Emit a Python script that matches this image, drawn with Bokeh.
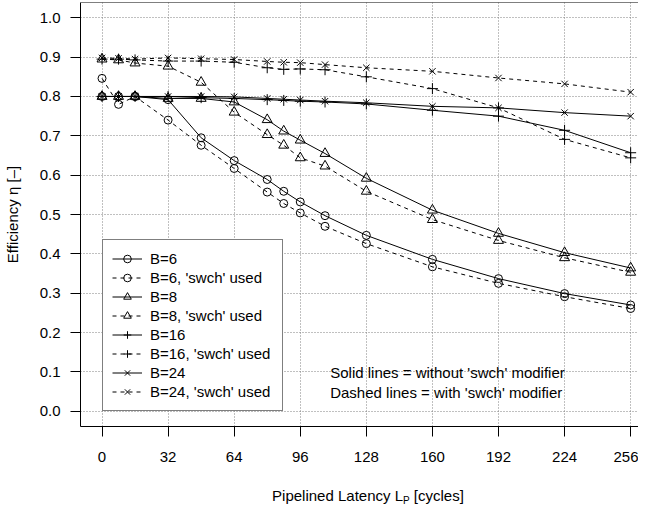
from bokeh.plotting import figure
from bokeh.layouts import column
from bokeh.models import (FixedTicker, PrintfTickFormatter, Legend, LegendItem,
                          Label, Span, Range1d, Div)
from bokeh.embed import file_html
from bokeh.resources import INLINE

# ---------------- data ----------------
latency = [0, 8, 16, 32, 48, 64, 80, 88, 96, 108, 128, 160, 192, 224, 256]

b6      = [0.800, 0.800, 0.800, 0.792, 0.695, 0.637, 0.589, 0.559, 0.532, 0.497, 0.447, 0.386, 0.337, 0.299, 0.270]
b6_swch = [0.846, 0.780, 0.800, 0.740, 0.676, 0.617, 0.557, 0.528, 0.504, 0.470, 0.426, 0.367, 0.325, 0.291, 0.261]
b8      = [0.800, 0.800, 0.800, 0.795, 0.795, 0.786, 0.741, 0.712, 0.689, 0.655, 0.592, 0.511, 0.452, 0.403, 0.364]
b8_swch = [0.895, 0.893, 0.885, 0.877, 0.836, 0.760, 0.703, 0.676, 0.644, 0.623, 0.559, 0.487, 0.434, 0.390, 0.353]
b16      = [0.800, 0.800, 0.800, 0.800, 0.797, 0.795, 0.792, 0.790, 0.788, 0.786, 0.781, 0.765, 0.750, 0.714, 0.657]
b16_swch = [0.895, 0.895, 0.893, 0.890, 0.890, 0.887, 0.873, 0.869, 0.870, 0.868, 0.850, 0.820, 0.771, 0.691, 0.644]
b24      = [0.800, 0.800, 0.800, 0.800, 0.800, 0.799, 0.795, 0.793, 0.791, 0.788, 0.784, 0.775, 0.771, 0.759, 0.750]
b24_swch = [0.898, 0.897, 0.895, 0.898, 0.896, 0.894, 0.889, 0.887, 0.886, 0.881, 0.873, 0.864, 0.847, 0.832, 0.811]

series_labels = ["B=6", "B=6, 'swch' used", "B=8", "B=8, 'swch' used",
                 "B=16", "B=16, 'swch' used", "B=24", "B=24, 'swch' used"]
series_values = [b6, b6_swch, b8, b8_swch, b16, b16_swch, b24, b24_swch]

x_ticks = [0, 32, 64, 96, 128, 160, 192, 224, 256]
y_ticks = [0.0, 0.1, 0.2, 0.3, 0.4, 0.5, 0.6, 0.7, 0.8, 0.9, 1.0]

note_lines = ["Solid lines = without 'swch' modifier",
              "Dashed lines = with 'swch' modifier"]

x_title_main = "Pipelined Latency L"
x_title_sub = "P"
x_title_end = " [cycles]"
y_title = "Efficiency η [–]"

# ---------------- styles ----------------
FONT = "Liberation Sans"
FS = "15px"
markers = ["circle", "circle", "triangle", "triangle", "cross", "cross", "x", "x"]
sizes = [8, 8, 10, 10, 11, 11, 9, 9]
dashes = ["solid", "4 4"] * 4

Y_START, Y_END = -0.0389, 1.0389
p = figure(width=638, height=478, output_backend="svg", toolbar_location=None,
           x_range=Range1d(-10.42, 259.8), y_range=Range1d(Y_START, Y_END),
           min_border_left=75, min_border_right=0, min_border_top=2,
           min_border_bottom=52)
p.outline_line_color = None
p.background_fill_color = "white"
p.border_fill_color = "white"

for ax in (p.xaxis[0], p.yaxis[0]):
    ax.axis_line_color = "black"
    ax.axis_line_width = 1
    ax.major_tick_line_color = "black"
    ax.major_tick_out = 10
    ax.major_tick_in = 0
    ax.minor_tick_line_color = None
    ax.major_label_text_font = FONT
    ax.major_label_text_font_size = FS
    ax.major_label_text_color = "black"
    ax.axis_label_text_font = FONT
    ax.axis_label_text_font_size = FS
    ax.axis_label_text_font_style = "normal"
    ax.axis_label_text_color = "black"

p.xaxis.ticker = FixedTicker(ticks=x_ticks)
p.yaxis.ticker = FixedTicker(ticks=y_ticks)
p.yaxis.formatter = PrintfTickFormatter(format="%.1f")
p.yaxis.major_label_orientation = "horizontal"
p.yaxis.major_label_standoff = 10
p.xaxis.major_label_standoff = 15
p.yaxis.axis_label = y_title
p.yaxis.axis_label_standoff = 16

p.xgrid.ticker = FixedTicker(ticks=x_ticks)
p.ygrid.ticker = FixedTicker(ticks=y_ticks)
for g in (p.xgrid[0], p.ygrid[0]):
    g.grid_line_color = "#808080"
    g.grid_line_dash = "1 2"
    g.grid_line_width = 1

# top edge of the plot box
p.add_layout(Span(location=Y_END, dimension="width", line_color="black", line_width=1))

items = []
for lab, vals, m, s, d in zip(series_labels, series_values, markers, sizes, dashes):
    rl = p.line(latency, vals, line_color="black", line_width=1, line_dash=d)
    rs = p.scatter(latency, vals, marker=m, size=s, fill_color=None,
                   line_color="black", line_width=1)
    items.append(LegendItem(label=lab, renderers=[rl, rs]))

legend = Legend(items=items, location=(22, 15), padding=9, spacing=0,
                glyph_height=19, label_height=19, glyph_width=30,
                label_width=123, label_standoff=8,
                label_text_font=FONT, label_text_font_size=FS,
                label_text_color="black",
                border_line_color="black", border_line_width=1,
                background_fill_color="white", background_fill_alpha=1.0,
                margin=0)
p.add_layout(legend)

for txt, yv in zip(note_lines, [0.0976, 0.047]):
    p.add_layout(Label(x=110.5, y=yv, text=txt, text_align="left",
                       text_baseline="middle", text_font=FONT,
                       text_font_size=FS, text_color="black"))

title_html = (
    "<div style=\"margin-left:88px;width:550px;text-align:center;padding-top:4px;"
    "font-family:'Liberation Sans';font-size:15px;line-height:17px;color:#000;"
    "white-space:nowrap;\">"
    + x_title_main
    + "<span style=\"font-size:10px;position:relative;top:3px;\">" + x_title_sub + "</span>"
    + x_title_end + "</div>"
)
div = Div(text=title_html, width=638, height=21)

layout = column(p, div, spacing=0)
open("out.html", "w").write(file_html(layout, INLINE))
